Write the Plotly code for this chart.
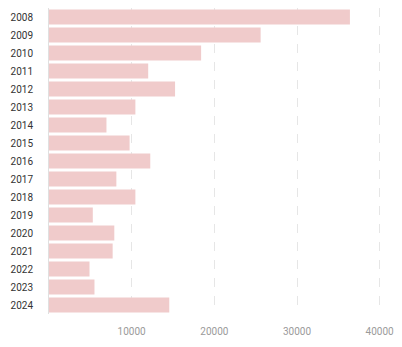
import plotly.graph_objects as go

years = ["2008", "2009", "2010", "2011", "2012", "2013", "2014", "2015", "2016",
         "2017", "2018", "2019", "2020", "2021", "2022", "2023", "2024"]
values = [36400, 25600, 18400, 12000, 15250, 10450, 6950, 9750, 12250,
          8150, 10450, 5300, 7900, 7700, 4900, 5500, 14550]
x_ticks = [10000, 20000, 30000, 40000]

fig = go.Figure(go.Bar(
    x=values, y=years, orientation="h",
    marker=dict(color="#f0cbcb", line=dict(width=0)),
))

fig.update_layout(
    width=402, height=347,
    margin=dict(l=49, r=10, t=8, b=33),
    paper_bgcolor="white", plot_bgcolor="white",
    bargap=0.18,
    showlegend=False,
    font=dict(family="Roboto, sans-serif", size=10, color="#333"),
)
fig.update_xaxes(
    range=[0, 41250],
    tickvals=x_ticks,
    ticktext=[str(v) for v in x_ticks],
    showgrid=True, gridcolor="#e6e6e6", griddash="dash", gridwidth=1,
    zeroline=False, showline=False,
    ticks="outside", ticklen=8, tickcolor="rgba(0,0,0,0)",
    tickfont=dict(color="#9a9a9a", size=10),
)
fig.update_yaxes(
    autorange="reversed",
    showgrid=False,
    showline=True, linecolor="#e0e0e0", linewidth=1,
    ticks="outside", ticklen=13, tickcolor="rgba(0,0,0,0)",
    tickfont=dict(color="#333", size=10),
)

fig.write_html("out.html")
